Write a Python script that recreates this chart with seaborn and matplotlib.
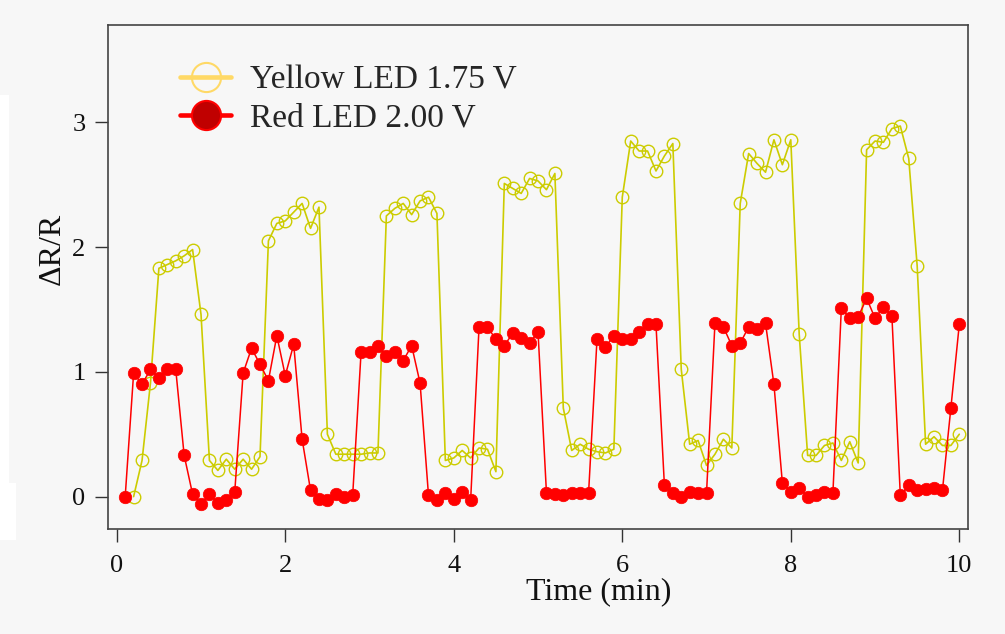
import numpy as np
import pandas as pd
import matplotlib
matplotlib.use('Agg')
import matplotlib.pyplot as plt
from matplotlib.lines import Line2D
from matplotlib.patches import Rectangle
import seaborn as sns

# Time axis (min), one sample every 0.1 min
time_red = [round(0.1 * i, 1) for i in range(1, 101)]
time_yellow = [round(0.1 * i, 1) for i in range(2, 101)]

# dR/R, yellow LED at 1.75 V (t = 0.2 .. 10.0)
yellow_vals = [
    0.00, 0.29, 0.91, 1.83, 1.86, 1.89, 1.93, 1.98, 1.46,
    0.29, 0.21, 0.30, 0.22, 0.30, 0.22, 0.32, 2.05, 2.19, 2.21,
    2.28, 2.35, 2.15, 2.32, 0.50, 0.34, 0.34, 0.34, 0.34, 0.35,
    0.35, 2.25, 2.31, 2.35, 2.26, 2.37, 2.40, 2.27, 0.29, 0.31,
    0.37, 0.31, 0.39, 0.38, 0.20, 2.51, 2.47, 2.43, 2.55, 2.53,
    2.46, 2.59, 0.71, 0.37, 0.42, 0.38, 0.36, 0.35, 0.38, 2.40,
    2.85, 2.77, 2.77, 2.61, 2.73, 2.83, 1.02, 0.42, 0.45, 0.25,
    0.34, 0.46, 0.39, 2.35, 2.75, 2.67, 2.60, 2.86, 2.66, 2.86,
    1.30, 0.33, 0.33, 0.41, 0.43, 0.29, 0.44, 0.27, 2.78, 2.85,
    2.84, 2.95, 2.97, 2.71, 1.85, 0.42, 0.48, 0.41, 0.41, 0.50,
]

# dR/R, red LED at 2.00 V (t = 0.1 .. 10.0)
red_vals = [
    0.00, 0.99, 0.90, 1.02, 0.95, 1.02, 1.02, 0.33, 0.02, -0.06,
    0.02, -0.05, -0.03, 0.035, 0.99, 1.19, 1.06, 0.93, 1.29, 0.97,
    1.22, 0.46, 0.05, -0.02, -0.03, 0.02, 0.00, 0.01, 1.16, 1.16,
    1.21, 1.13, 1.16, 1.09, 1.21, 0.91, 0.01, -0.03, 0.03, -0.02,
    0.04, -0.03, 1.36, 1.36, 1.26, 1.21, 1.31, 1.27, 1.23, 1.32,
    0.03, 0.02, 0.01, 0.03, 0.03, 0.03, 1.26, 1.20, 1.29, 1.26,
    1.26, 1.32, 1.38, 1.38, 0.09, 0.03, 0.00, 0.04, 0.03, 0.03,
    1.39, 1.36, 1.21, 1.23, 1.36, 1.34, 1.39, 0.90, 0.11, 0.04,
    0.07, 0.00, 0.01, 0.04, 0.03, 1.51, 1.43, 1.44, 1.59, 1.43,
    1.52, 1.45, 0.01, 0.09, 0.05, 0.06, 0.07, 0.05, 0.71, 1.38,
]

x_ticks = [0, 2, 4, 6, 8, 10]
y_ticks = [0, 1, 2, 3]
legend_labels = ['Yellow LED 1.75 V', 'Red LED 2.00 V']

BG = '#f7f7f7'
YELLOW = '#cccc00'
RED = '#ff0000'

sns.set_theme(style='ticks')
plt.rcParams['font.family'] = ['Liberation Serif', 'DejaVu Serif']
plt.rcParams['axes.unicode_minus'] = False

df_yellow = pd.DataFrame({'Time': time_yellow, 'dRR': yellow_vals})
df_red = pd.DataFrame({'Time': time_red, 'dRR': red_vals})

fig = plt.figure(figsize=(10.05, 6.34), dpi=100, facecolor=BG)
# white strip at the left edge of the original image
fig.patches.append(Rectangle((0, 94 / 634), 9 / 1005, 445 / 634, transform=fig.transFigure,
                             facecolor='white', edgecolor='none', zorder=0))
fig.patches.append(Rectangle((0, 94 / 634), 16 / 1005, 57 / 634, transform=fig.transFigure,
                             facecolor='white', edgecolor='none', zorder=0))

ax = fig.add_axes([0.1078, 0.1649, 0.8551, 0.7957])
ax.set_facecolor(BG)

sns.lineplot(data=df_yellow, x='Time', y='dRR', ax=ax, color=YELLOW, linewidth=1.2,
             marker='o', markersize=9, markerfacecolor='none', markeredgecolor=YELLOW,
             markeredgewidth=1.0, estimator=None, zorder=2)
sns.lineplot(data=df_red, x='Time', y='dRR', ax=ax, color=RED, linewidth=1.1,
             marker='o', markersize=9, markerfacecolor=RED, markeredgecolor=RED,
             markeredgewidth=0.5, estimator=None, zorder=3)

ax.set_xlim(-0.1, 10.1)
ax.set_ylim(-0.263, 3.78)
ax.set_xticks(x_ticks)
ax.set_yticks(y_ticks)
ax.set_xticklabels([str(t) for t in x_ticks])
ax.set_yticklabels([str(t) for t in y_ticks])
ax.tick_params(axis='both', direction='out', length=9.5, width=1.0, color='#333333',
               labelsize=19, labelcolor='#111111', pad=7)
ax.tick_params(axis='x', pad=9)

for side in ['left', 'right', 'top', 'bottom']:
    ax.spines[side].set_visible(True)
    ax.spines[side].set_color('#444444')
    ax.spines[side].set_linewidth(1.2)

ax.set_xlabel('Time (min)', fontsize=23, color='#111111')
ax.set_ylabel('ΔR/R', fontsize=23, color='#111111')
ax.xaxis.set_label_coords(0.571, -0.095)
ax.yaxis.set_label_coords(-0.048, 0.556)

handles = [
    Line2D([0], [0], color='#ffd966', linewidth=3.3, marker='o', markersize=21,
           markerfacecolor='none', markeredgecolor='#ffd966', markeredgewidth=1.5),
    Line2D([0], [0], color=RED, linewidth=3.3, marker='o', markersize=21,
           markerfacecolor='#c00000', markeredgecolor=RED, markeredgewidth=1.5),
]
ax.legend(handles, legend_labels, loc='upper left', bbox_to_anchor=(0.083, 0.920),
          frameon=False, fontsize=24, handlelength=1.55, handletextpad=0.55,
          labelspacing=0.225, borderpad=0, borderaxespad=0)

fig.savefig('out.png', dpi=100, facecolor=BG)
plt.close(fig)
print('Plot saved to: out.png')
